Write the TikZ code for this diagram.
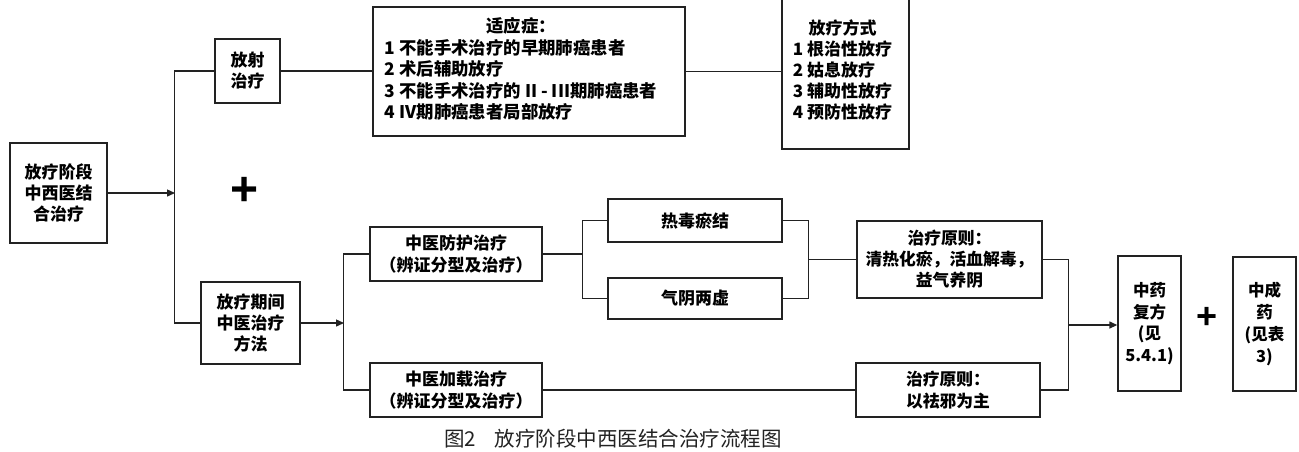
\documentclass[tikz,border=0pt]{standalone}
\usepackage{fontspec}
\setmainfont{Noto Sans CJK SC}
\newfontfamily\plusfont{Liberation Sans}
\usetikzlibrary{arrows.meta}
\definecolor{linec}{HTML}{222222}
\tikzset{
  box/.style={draw=linec, line width=1.4pt, inner sep=0pt, align=center, text=black,
    font=\bfseries\fontsize{17}{21}\selectfont},
  conn/.style={draw=linec, line width=1.4pt},
  arr/.style={conn, -{Triangle[length=8pt,width=7pt]}},
  plussign/.style={font=\plusfont\bfseries\fontsize{48}{48}\selectfont, text=black, inner sep=0pt},
}
\begin{document}
\begin{tikzpicture}[x=1pt,y=-1pt]
\useasboundingbox (0,0) rectangle (1299,451);
% nodes
\node[box, minimum width=97, minimum height=100] (A) at (58.5,193) {放疗阶段\\中西医结\\合治疗};
\node[box, minimum width=65, minimum height=64] (B) at (247.5,71) {放射\\治疗};
\node[box, minimum width=312, minimum height=129, font=\bfseries\fontsize{17.4}{21.4}\selectfont] (C) at (529,71.5)
  {\begin{tabular}{@{}l@{}}\multicolumn{1}{@{}c@{}}{适应症：}\\
   1 不能手术治疗的早期肺癌患者\\
   2 术后辅助放疗\\
   3 不能手术治疗的 II - III期肺癌患者\\
   4 IV期肺癌患者局部放疗\end{tabular}\hspace*{16pt}};
\node[box, minimum width=127, minimum height=153, font=\bfseries\fontsize{17}{20.8}\selectfont] (D) at (845.5,72.5)
  {\begin{tabular}{@{}l@{}}\multicolumn{1}{@{}c@{}}{放疗方式}\\
   1 根治性放疗\\
   2 姑息放疗\\
   3 辅助性放疗\\
   4 预防性放疗\end{tabular}\hspace*{6pt}};
\node[box, minimum width=99, minimum height=82] (E) at (250.5,323) {放疗期间\\中医治疗\\方法};
\node[box, minimum width=172, minimum height=54, font=\bfseries\fontsize{17}{21.7}\selectfont] (F) at (456,254) {中医防护治疗\\（辨证分型及治疗）};
\node[box, minimum width=172, minimum height=54, font=\bfseries\fontsize{17}{21.7}\selectfont] (G) at (456,390) {中医加载治疗\\（辨证分型及治疗）};
\node[box, minimum width=174, minimum height=43] (H) at (695,220.5) {热毒瘀结};
\node[box, minimum width=174, minimum height=41] (I) at (695,298.5) {气阴两虚};
\node[box, minimum width=185, minimum height=77, font=\bfseries\fontsize{16.8}{21}\selectfont] (J) at (949.5,259.5) {治疗原则：\\清热化瘀，活血解毒，\\益气养阴};
\node[box, minimum width=184, minimum height=54, font=\bfseries\fontsize{16.8}{21.7}\selectfont] (K) at (948,390) {治疗原则：\\以祛邪为主};
\node[box, minimum width=63, minimum height=135, font=\bfseries\fontsize{16.5}{21.7}\selectfont] (L) at (1149.5,323.5) {中药\\复方\\(见\\5.4.1)};
\node[box, minimum width=63, minimum height=134, font=\bfseries\fontsize{16.5}{21.7}\selectfont] (M) at (1264.5,324) {中成\\药\\(见表\\3)};
\node[plussign] (P1) at (245,191) {+};
\node[plussign, font=\plusfont\bfseries\fontsize{36}{36}\selectfont] (P2) at (1207,318) {+};
\node[font=\fontsize{20.5}{24}\selectfont, text=linec, inner sep=0pt] (cap) at (613,439) {图2\hspace{0.9em}放疗阶段中西医结合治疗流程图};
% coordinates
\coordinate (t1) at (175,193);
\coordinate (t2) at (344,323);
\coordinate (s1) at (583,254);
\coordinate (s2) at (808,259.5);
\coordinate (s3) at (1068,325);
% connectors
\draw[arr] (A.east) -- (t1);
\draw[conn] (B.west) -- ++(-40,0) |- (E.west);
\draw[conn] (B.east) -- (B.east -| C.west);
\draw[conn] (C.east) -- (C.east -| D.west);
\draw[arr] (E.east) -- (t2);
\draw[conn] (F.west) -- ++(-26,0) |- (G.west);
\draw[conn] (F.east) -- (s1);
\draw[conn] (H.west) -- ++(-25,0) |- (I.west);
\draw[conn] (H.east) -- ++(26,0) |- (I.east);
\draw[conn] (s2) -- (s2 -| J.west);
\draw[conn] (J.east) -- ++(26,0) |- (K.east);
\draw[conn] (G.east) -- (K.west);
\draw[arr] (s3) -- (s3 -| L.west);
\end{tikzpicture}
\end{document}
